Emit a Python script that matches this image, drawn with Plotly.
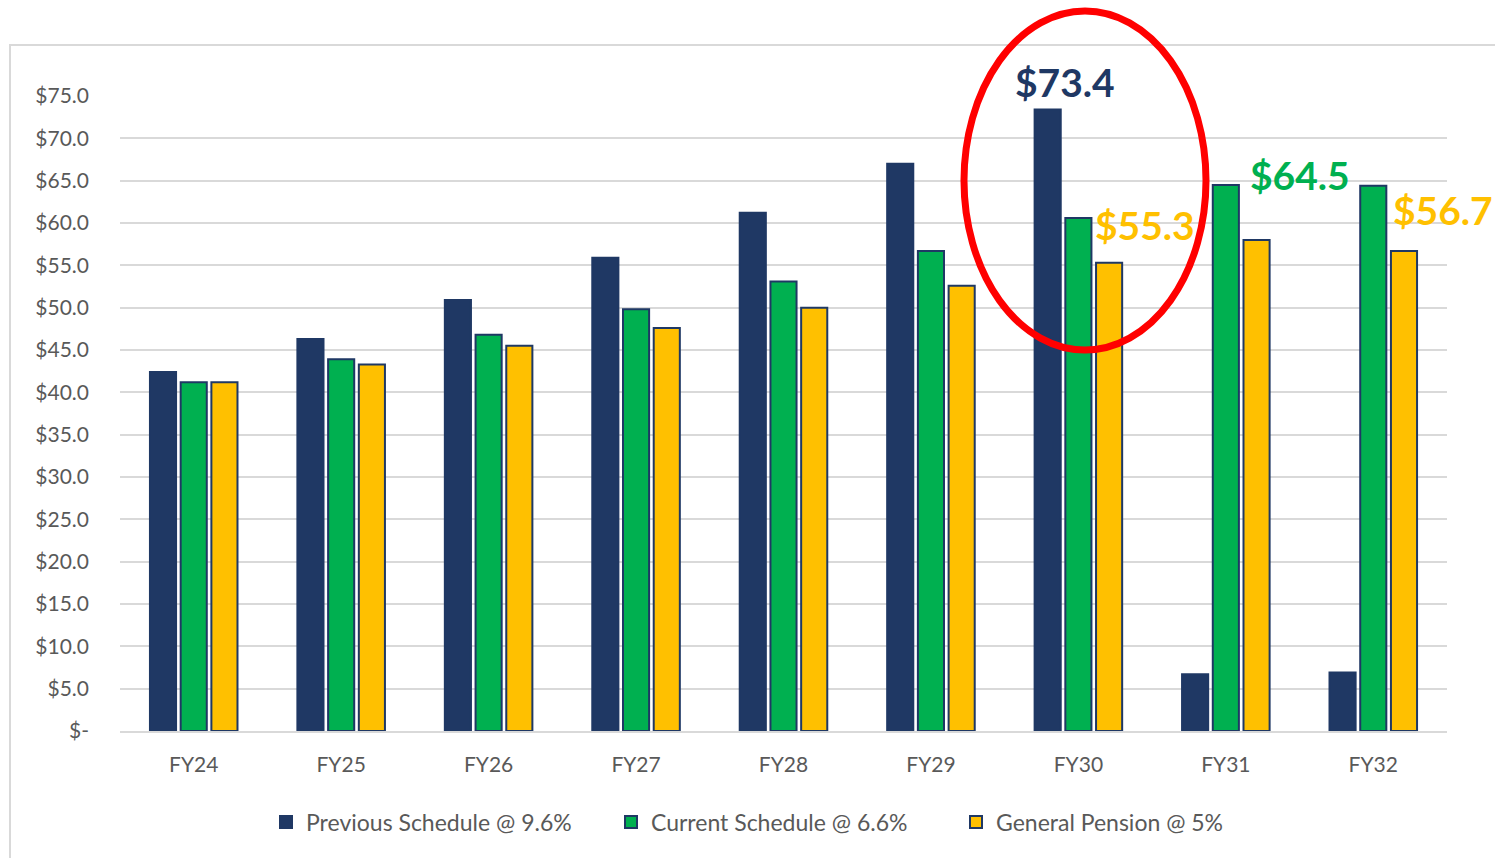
import plotly.graph_objects as go

categories = ["FY24", "FY25", "FY26", "FY27", "FY28", "FY29", "FY30", "FY31", "FY32"]
previous_schedule = [42.4, 46.3, 50.9, 55.9, 61.2, 67.0, 73.4, 6.7, 6.9]
current_schedule = [41.2, 43.9, 46.8, 49.8, 53.1, 56.7, 60.6, 64.5, 64.4]
general_pension = [41.2, 43.3, 45.5, 47.6, 50.0, 52.6, 55.3, 58.0, 56.7]
series_names = ["Previous Schedule @ 9.6%", "Current Schedule @ 6.6%", "General Pension @ 5%"]
tick_values = [0, 5, 10, 15, 20, 25, 30, 35, 40, 45, 50, 55, 60, 65, 70, 75]
tick_labels = ["$-"] + ["${:.1f}".format(v) for v in tick_values[1:]]

NAVY = "#1F3864"
GREEN = "#00B050"
YELLOW = "#FFC000"
FONT = "Lato"

fig = go.Figure()
for name, vals, col in zip(series_names, [previous_schedule, current_schedule, general_pension],
                           [NAVY, GREEN, YELLOW]):
    fig.add_trace(go.Bar(x=categories, y=vals, name=name,
                         marker=dict(color=col, line=dict(color=NAVY, width=2))))

W, H = 1495, 858
L, R, T, B = 120, 48, 96, 127
pw, ph = W - L - R, H - T - B

def px(x):
    return (x - L) / pw

def py(y):
    return (H - B - y) / ph

# outer frame
fig.add_shape(type="rect", xref="paper", yref="paper",
              x0=px(10), x1=px(1510), y0=py(870), y1=py(45),
              line=dict(color="#d9d9d9", width=2), layer="below")
# red ellipse
fig.add_shape(type="circle", xref="paper", yref="paper",
              x0=px(964), x1=px(1206), y0=py(350), y1=py(11),
              line=dict(color="#FF0000", width=7))

def label(cat, val, text, color, dx, dy):
    fig.add_annotation(x=cat, y=val, text="<b>%s</b>" % text,
                       showarrow=False, xshift=dx, yshift=dy,
                       font=dict(family=FONT, size=39, color=color))

label("FY30", previous_schedule[6], "$73.4", NAVY, -13, 28)
label("FY30", general_pension[6], "$55.3", YELLOW, 67, 38)
label("FY31", current_schedule[7], "$64.5", GREEN, 74, 10)
label("FY32", general_pension[8], "$56.7", YELLOW, 70, 41)

fig.update_layout(
    width=W, height=H,
    margin=dict(l=L, r=R, t=T, b=B),
    paper_bgcolor="white", plot_bgcolor="white",
    barmode="group", bargap=0.375, bargroupgap=0.15,
    font=dict(family=FONT, size=21, color="#595959"),
    showlegend=True,
    legend=dict(orientation="h", x=0.5, xanchor="center", y=py(822), yanchor="middle",
                font=dict(family=FONT, size=23, color="#595959"), itemwidth=30,
                entrywidth=300, entrywidthmode="pixels", tracegroupgap=0),
    xaxis=dict(range=[-0.5, len(categories) - 0.5], autorange=False,
               showgrid=False, showline=True, linecolor="#d9d9d9", linewidth=2,
               ticks="", tickfont=dict(size=21, color="#595959"), ticklabelstandoff=14),
    yaxis=dict(range=[0, 75], autorange=False, tickvals=tick_values, ticktext=tick_labels,
               showgrid=True, gridcolor="#d9d9d9", gridwidth=2, zeroline=False,
               showline=False, ticks="", ticklabelstandoff=30,
               tickfont=dict(size=21, color="#595959")),
)

fig.write_html("out.html", config={"displayModeBar": False},
               post_script="document.body.style.margin='0';")
